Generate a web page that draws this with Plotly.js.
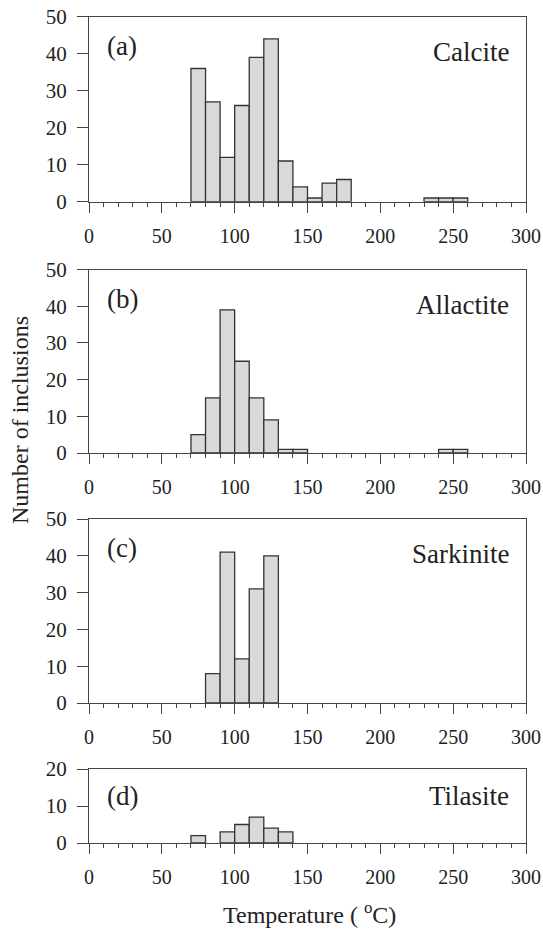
<!DOCTYPE html>
<html>
<head>
<meta charset="utf-8">
<script src="https://cdn.plot.ly/plotly-3.0.1.min.js"></script>
<style>
html,body{margin:0;padding:0;background:#fff;}
#chart{width:543px;height:932px;}
</style>
</head>
<body>
<div id="chart"></div>
<script>
// Bin left edges (°C, bin width 10) and counts for each mineral
const calciteBins   = [70, 80, 90, 100, 110, 120, 130, 140, 150, 160, 170, 230, 240, 250];
const calciteCounts = [36, 27, 12, 26, 39, 44, 11, 4, 1, 5, 6, 1, 1, 1];

const allactiteBins   = [70, 80, 90, 100, 110, 120, 130, 140, 240, 250];
const allactiteCounts = [5, 15, 39, 25, 15, 9, 1, 1, 1, 1];

const sarkiniteBins   = [80, 90, 100, 110, 120];
const sarkiniteCounts = [8, 41, 12, 31, 40];

const tilasiteBins   = [70, 90, 100, 110, 120, 130];
const tilasiteCounts = [2, 3, 5, 7, 4, 3];

const panelLetters = ["(a)", "(b)", "(c)", "(d)"];
const mineralNames = ["Calcite", "Allactite", "Sarkinite", "Tilasite"];
const yMax = [50, 50, 50, 20];
const xTickStep = 50;
const binWidth = 10;

const H = 932;
const FONT = "Liberation Serif, Times New Roman, serif";
const LINE = "#444";

const series = [
  [calciteBins, calciteCounts],
  [allactiteBins, allactiteCounts],
  [sarkiniteBins, sarkiniteCounts],
  [tilasiteBins, tilasiteCounts]
];
// pixel positions of (zero, top) for each panel
const panelPx = [[201.7, 16.7], [453, 269.5], [703, 519], [843, 769]];
const ML = 89, MR = 17, PW = 543 - ML - MR;

const traces = series.map((s, i) => ({
  type: "bar",
  x: s[0],
  y: s[1],
  width: binWidth,
  offset: 0,
  xaxis: i === 0 ? "x" : "x" + (i + 1),
  yaxis: i === 0 ? "y" : "y" + (i + 1),
  marker: {color: "#d9d9d9", line: {color: "#333", width: 1.3}},
  hoverinfo: "x+y",
  showlegend: false
}));

const layout = {
  width: 543,
  height: H,
  margin: {l: ML, r: MR, t: 0, b: 0},
  paper_bgcolor: "#fff",
  plot_bgcolor: "rgba(0,0,0,0)",
  bargap: 0,
  font: {family: FONT, size: 21, color: "#222"},
  showlegend: false,
  annotations: []
};

for (let i = 0; i < 4; i++) {
  const sfx = i === 0 ? "" : String(i + 1);
  const [p0, p1] = panelPx[i];
  layout["xaxis" + sfx] = {
    domain: [0, 1],
    anchor: "y" + sfx,
    range: [0, 300],
    tick0: 0,
    dtick: xTickStep,
    ticks: "outside",
    ticklen: 10,
    tickwidth: 1,
    tickcolor: LINE,
    ticklabelstandoff: 6,
    ticklabeloverflow: "allow",
    showline: true,
    linecolor: LINE,
    linewidth: 1,
    mirror: true,
    showgrid: false,
    zeroline: false,
    fixedrange: true,
    tickfont: {family: FONT, size: 20, color: "#222"},
    minor: {ticks: "outside", ticklen: 4, dtick: binWidth, tickcolor: LINE, tickwidth: 1, showgrid: false}
  };
  layout["yaxis" + sfx] = {
    domain: [(H - p0) / H, (H - p1) / H],
    anchor: "x" + sfx,
    range: [0, yMax[i]],
    tick0: 0,
    dtick: 10,
    ticks: "outside",
    ticklen: 11,
    tickwidth: 1,
    tickcolor: LINE,
    ticklabelstandoff: 6,
    showline: true,
    linecolor: LINE,
    linewidth: 1,
    mirror: true,
    showgrid: false,
    zeroline: false,
    fixedrange: true,
    tickfont: {family: FONT, size: 21, color: "#222"}
  };
  const isSmall = yMax[i] === 20;
  layout.annotations.push({
    text: panelLetters[i],
    xref: "x" + sfx + " domain", yref: "y" + sfx,
    x: 0.037, y: isSmall ? 12.7 : 42,
    xanchor: "left", yanchor: "middle", showarrow: false,
    font: {family: FONT, size: 27, color: "#222"}
  });
  layout.annotations.push({
    text: mineralNames[i],
    xref: "x" + sfx + " domain", yref: "y" + sfx,
    x: (511 - ML) / PW, y: isSmall ? 12.7 : 40.4,
    xanchor: "right", yanchor: "middle", showarrow: false,
    font: {family: FONT, size: 27, color: "#222"}
  });
}

layout.annotations.push({
  text: "Number of inclusions",
  xref: "paper", yref: "paper",
  x: (20 - ML) / PW, y: (H - 420) / H,
  xanchor: "center", yanchor: "middle", textangle: -90, showarrow: false,
  font: {family: FONT, size: 24, color: "#222"}
});
layout.annotations.push({
  text: "Temperature ( <sup>o</sup>C)",
  xref: "paper", yref: "paper",
  x: (309 - ML) / PW, y: (H - 913) / H,
  xanchor: "center", yanchor: "middle", showarrow: false,
  font: {family: FONT, size: 24, color: "#222"}
});

Plotly.newPlot("chart", traces, layout, {displayModeBar: false, staticPlot: true});
</script>
</body>
</html>
